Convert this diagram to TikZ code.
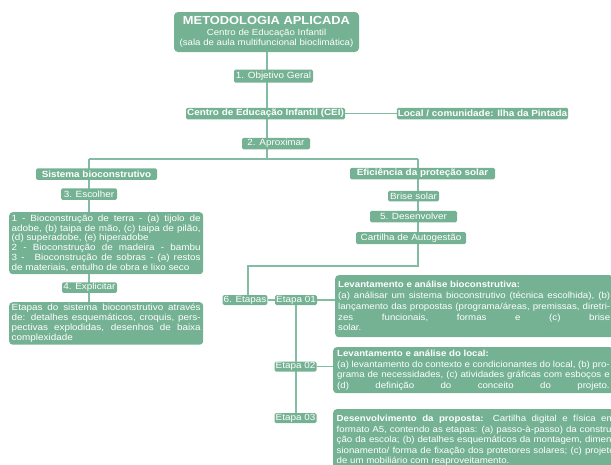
\documentclass[tikz,border=0pt]{standalone}
\usepackage{fontspec}
\setmainfont{Liberation Sans}[FakeStretch=1.1]
\usetikzlibrary{backgrounds}
\definecolor{boxfill}{RGB}{117,178,148}
\definecolor{linec}{RGB}{130,188,162}
\tikzset{
  lab/.style={fill=boxfill, text=white, rounded corners=1.5pt, inner xsep=1pt, inner ysep=0pt,
    minimum height=11.5pt, font=\fontsize{9}{10}\selectfont},
  blab/.style={lab, font=\fontsize{9}{10}\selectfont\bfseries},
  para/.style={fill=boxfill, text=white, rounded corners=3.5pt, inner ysep=2pt,
    align=justify, anchor=north west},
  conn/.style={draw=linec, line width=1.5pt},
}
\newcommand{\parsetup}{\tolerance=10000\hyphenpenalty=10000\exhyphenpenalty=10000\emergencystretch=0pt}
\begin{document}
\begin{tikzpicture}[x=1pt,y=-1pt]
\useasboundingbox (0,0) rectangle (611,464);
\clip (0,0) rectangle (611,464);
% title
\node[fill=boxfill, text=white, rounded corners=4pt, minimum width=185pt, minimum height=40pt,
  inner ysep=2pt, align=center, font=\fontsize{8.8}{9.8}\selectfont] (title) at (266.5,32)
  {{\fontsize{11.7}{13}\selectfont\bfseries METODOLOGIA APLICADA}\\[1.5pt]
   Centro de Educação Infantil\\(sala de aula multifuncional bioclimática)};
\node[lab, minimum width=79pt, minimum height=13pt] (obj) at (273.5,76) {1. Objetivo Geral};
\node[blab, minimum width=159pt] (cei) at (265.5,113.5) {Centro de Educação Infantil (CEI)};
\node[blab, minimum width=171pt] (local) at (482.5,113.5) {Local / comunidade: Ilha da Pintada};
\node[lab, minimum width=68pt] (aprox) at (276,143.5) {2. Aproximar};
% left branch
\node[blab, minimum width=121pt] (sist) at (96.5,174) {Sistema bioconstrutivo};
\node[lab, minimum width=56pt] (escolher) at (89,194) {3. Escolher};
\node[para, text width=189pt, inner xsep=2.5pt, minimum height=62pt,
  font=\fontsize{9}{9.8}\selectfont] (leftbox) at (9,212)
  {\parsetup 1 - Bioconstrução de terra - (a) tijolo de\linebreak
   adobe, (b) taipa de mão, (c) taipa de pilão,\linebreak
   (d) superadobe, (e) hiperadobe\newline
   2 - Bioconstrução de madeira - bambu\linebreak
   3 -\hspace{6pt} Bioconstrução de sobras - (a) restos\linebreak
   de materiais, entulho de obra e lixo seco};
\node[lab, minimum width=55pt, minimum height=10.5pt] (explicitar) at (89.5,287.5) {4. Explicitar};
\node[para, text width=189pt, inner xsep=2.5pt, minimum height=42pt,
  font=\fontsize{9}{10}\selectfont] (etbox) at (9,302)
  {\parsetup Etapas do sistema bioconstrutivo através\linebreak
   de: detalhes esquemáticos, croquis, pers-\linebreak
   pectivas explodidas, desenhos de baixa\linebreak
   complexidade};
% right branch
\node[blab, minimum width=145pt] (efic) at (422.5,173.5) {Eficiência da proteção solar};
\node[lab, minimum width=51pt, minimum height=10.5pt] (brise) at (413.5,196) {Brise solar};
\node[lab, minimum width=87pt] (desenv) at (413.5,216.5) {5. Desenvolver};
\node[lab, minimum width=110pt, minimum height=12pt] (cart) at (411,238) {Cartilha de Autogestão};
\node[lab, minimum width=44pt, minimum height=10pt] (et6) at (245,300) {6. Etapas};
\node[lab, minimum width=42pt, minimum height=10pt] (et1) at (296,300) {Etapa 01};
\node[lab, minimum width=42pt, minimum height=10pt] (et2) at (295.5,366.5) {Etapa 02};
\node[lab, minimum width=42pt, minimum height=10pt] (et3) at (295.5,418) {Etapa 03};
\node[para, text width=272pt, inner xsep=3pt, minimum height=62pt,
  font=\fontsize{8.8}{10.8}\selectfont] (box1) at (335,275)
  {\parsetup\textbf{Levantamento e análise bioconstrutiva:}\newline
   (a) análisar um sistema bioconstrutivo (técnica escolhida), (b)\linebreak
   lançamento das propostas (programa/áreas, premissas, diretri-\linebreak
   zes\hfill funcionais,\hfill formas\hfill e\hfill (c)\hfill brise\linebreak
   solar.};
\node[para, text width=272.5pt, inner xsep=4pt, minimum height=46pt,
  font=\fontsize{8.8}{10.6}\selectfont] (box2) at (333,347)
  {\parsetup\textbf{Levantamento e análise do local:}\newline
   (a) levantamento do contexto e condicionantes do local, (b) pro-\linebreak
   grama de necessidades, (c) atividades gráficas com esboços e\linebreak
   (d)\hfill definição\hfill do\hfill conceito\hfill do\hfill projeto.};
\node[para, text width=278pt, inner xsep=3.5pt, minimum height=62pt,
  font=\fontsize{8.8}{10.5}\selectfont] (box3) at (333,409)
  {\parsetup\textbf{Desenvolvimento da proposta:} Cartilha digital e física em\linebreak
   formato A5, contendo as etapas: (a) passo-à-passo) da constru-\linebreak
   ção da escola; (b) detalhes esquemáticos da montagem, dimen-\linebreak
   sionamento/ forma de fixação dos protetores solares; (c) projeto\linebreak
   de um mobiliário com reaproveitamento.};
% connectors
\coordinate (sp) at (267,159);
\coordinate (hl) at (89,159);
\coordinate (hr) at (418,159);
\coordinate (rr) at (418,266);
\coordinate (rl) at (248,266);
\begin{pgfonlayer}{background}
\draw[conn] (title.south -| sp) -- (sp);
\draw[conn] (hl) -- (hr);
\draw[conn] (hl) -- (hl |- etbox.north);
\draw[conn] (hr) -- (rr) -- (rl) -- (rl |- et6.north);
\draw[conn] (cei.east) -- (local.west);
\draw[conn] (et6.east) -- (et1.west);
\draw[conn] (et1.east) -- (et1 -| box1.west);
\draw[conn] (et1.south) -- (et1 |- et3.north);
\draw[conn] (et2.east) -- (et2 -| box2.west);
\end{pgfonlayer}
\end{tikzpicture}
\end{document}
